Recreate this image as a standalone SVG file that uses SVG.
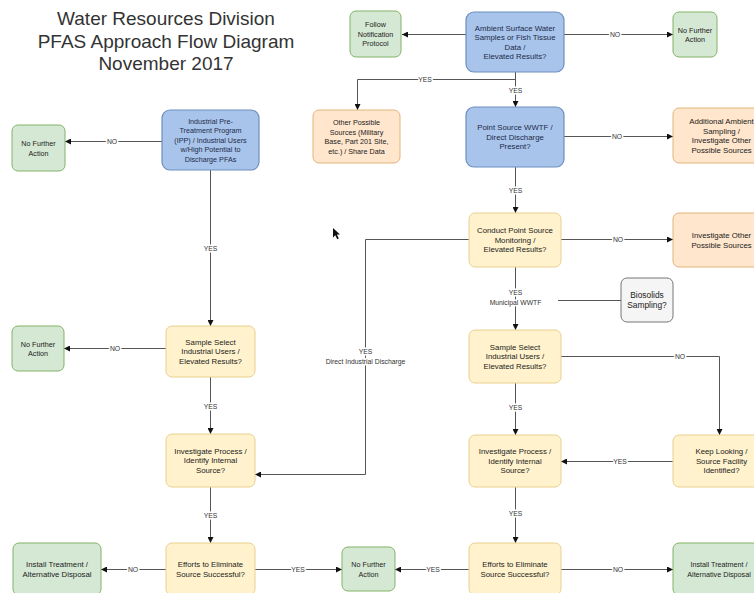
<svg xmlns="http://www.w3.org/2000/svg" width="754" height="593" viewBox="0 0 754 593">
<defs>
<style>
.g{fill:#d5e8d4;stroke:#82b366;stroke-width:1}
.b{fill:#a9c4eb;stroke:#6c8ebf;stroke-width:1.2}
.o{fill:#ffe6cc;stroke:#e3b47a;stroke-width:1}
.y{fill:#fff2cc;stroke:#e8d08e;stroke-width:1}
.gr{fill:#f5f5f5;stroke:#777;stroke-width:1}
.t{font-family:"Liberation Sans",Arial,Helvetica,sans-serif;font-size:7.8px;fill:#222;text-anchor:middle}
.s{font-size:7.2px}
.title{font-family:"Liberation Sans",Arial,Helvetica,sans-serif;font-size:19px;fill:#333;text-anchor:middle}
.c{fill:none;stroke:#555;stroke-width:1}
.l{font-family:"Liberation Sans",Arial,Helvetica,sans-serif;font-size:6.8px;fill:#333;text-anchor:middle;paint-order:stroke;stroke:#fff;stroke-width:3px;stroke-linejoin:round}
</style>
<marker id="a" viewBox="0 0 10 10" refX="10" refY="5" markerWidth="6" markerHeight="6" markerUnits="userSpaceOnUse" orient="auto">
<path d="M0,0 L10,5 L0,10 z" fill="#111"/>
</marker>
</defs>
<rect width="754" height="593" fill="#fff"/>

<g id="title">
<text class="title" x="166" y="25">Water Resources Division</text>
<text class="title" x="166" y="48">PFAS Approach Flow Diagram</text>
<text class="title" x="166" y="70">November 2017</text>
</g>

<g id="connectors">
<path class="c" d="M466,34.5 H402" marker-end="url(#a)"/>
<path class="c" d="M564,34.5 H673" marker-end="url(#a)"/>
<path class="c" d="M515.5,72 V107" marker-end="url(#a)"/>
<path class="c" d="M515.5,79.5 H357.5 V110" marker-end="url(#a)"/>
<path class="c" d="M564,136.5 H673" marker-end="url(#a)"/>
<path class="c" d="M515.5,167 V213" marker-end="url(#a)"/>
<path class="c" d="M561,239.5 H673" marker-end="url(#a)"/>
<path class="c" d="M469,239.5 H365.5 V474.5 H255" marker-end="url(#a)"/>
<path class="c" d="M515.5,267 V330" marker-end="url(#a)"/>
<path class="c" d="M558,300.5 H621"/>
<path class="c" d="M561,356.5 H719.5 V435" marker-end="url(#a)"/>
<path class="c" d="M515.5,383 V435" marker-end="url(#a)"/>
<path class="c" d="M673,461.5 H561" marker-end="url(#a)"/>
<path class="c" d="M515.5,487 V543" marker-end="url(#a)"/>
<path class="c" d="M469,569.5 H395" marker-end="url(#a)"/>
<path class="c" d="M561,569.5 H673" marker-end="url(#a)"/>
<path class="c" d="M162,141.5 H65" marker-end="url(#a)"/>
<path class="c" d="M210.5,170 V326" marker-end="url(#a)"/>
<path class="c" d="M166,348.5 H64" marker-end="url(#a)"/>
<path class="c" d="M210.5,377 V434" marker-end="url(#a)"/>
<path class="c" d="M210.5,487 V543" marker-end="url(#a)"/>
<path class="c" d="M166,569.5 H101" marker-end="url(#a)"/>
<path class="c" d="M255,569.5 H342" marker-end="url(#a)"/>

<text class="l" x="615" y="36.8">NO</text>
<text class="l" x="515.5" y="92.5">YES</text>
<text class="l" x="425" y="81.8">YES</text>
<text class="l" x="617" y="138.8">NO</text>
<text class="l" x="515.5" y="192.5">YES</text>
<text class="l" x="618" y="241.8">NO</text>
<text class="l" x="365.5" y="354">YES</text>
<text class="l" x="365.5" y="364">Direct Industrial Discharge</text>
<text class="l" x="515.5" y="294.5">YES</text>
<text class="l" x="515.5" y="305">Municipal WWTF</text>
<text class="l" x="680" y="358.8">NO</text>
<text class="l" x="515.5" y="409.5">YES</text>
<text class="l" x="620" y="463.8">YES</text>
<text class="l" x="515.5" y="515.5">YES</text>
<text class="l" x="433" y="571.8">YES</text>
<text class="l" x="618" y="571.8">NO</text>
<text class="l" x="112" y="143.8">NO</text>
<text class="l" x="210.5" y="250.5">YES</text>
<text class="l" x="115" y="350.8">NO</text>
<text class="l" x="210.5" y="408.5">YES</text>
<text class="l" x="210.5" y="517.5">YES</text>
<text class="l" x="133" y="571.8">NO</text>
<text class="l" x="298" y="571.8">YES</text>
</g>

<g id="ambient">
<rect class="b" x="466" y="12" width="98" height="60" rx="8"/>
<text class="t" style="fill:#1c2b4a"><tspan x="515" y="30.5">Ambient Surface Water</tspan><tspan x="515" y="40">Samples or Fish Tissue</tspan><tspan x="515" y="49.5">Data /</tspan><tspan x="515" y="59">Elevated Results?</tspan></text>
</g>
<g id="follow">
<rect class="g" x="350" y="11" width="51" height="46" rx="6"/>
<text class="t s"><tspan x="375.5" y="27.3">Follow</tspan><tspan x="375.5" y="36.8">Notification</tspan><tspan x="375.5" y="46.3">Protocol</tspan></text>
</g>
<g id="nfa-top">
<rect class="g" x="673" y="12" width="44" height="45" rx="6"/>
<text class="t s"><tspan x="695" y="32.5">No Further</tspan><tspan x="695" y="42">Action</tspan></text>
</g>
<g id="other-sources">
<rect class="o" x="313" y="110" width="87" height="53" rx="6"/>
<text class="t s"><tspan x="356.5" y="125">Other Possible</tspan><tspan x="356.5" y="134.5">Sources (Military</tspan><tspan x="356.5" y="144">Base, Part 201 Site,</tspan><tspan x="356.5" y="153.5">etc.) / Share Data</tspan></text>
</g>
<g id="point-source">
<rect class="b" x="466" y="107" width="98" height="60" rx="8"/>
<text class="t" style="fill:#1c2b4a"><tspan x="515" y="130.3">Point Source WWTF /</tspan><tspan x="515" y="139.8">Direct Discharge</tspan><tspan x="515" y="149.3">Present?</tspan></text>
</g>
<g id="additional">
<rect class="o" x="673" y="108" width="97" height="55" rx="6"/>
<text class="t"><tspan x="721.5" y="124">Additional Ambient</tspan><tspan x="721.5" y="133.5">Sampling /</tspan><tspan x="721.5" y="143">Investigate Other</tspan><tspan x="721.5" y="152.5">Possible Sources</tspan></text>
</g>
<g id="ipp">
<rect class="b" x="162" y="110" width="97" height="60" rx="8"/>
<text class="t s" style="fill:#1c2b4a"><tspan x="210.5" y="123.6">Industrial Pre-</tspan><tspan x="210.5" y="133.1">Treatment Program</tspan><tspan x="210.5" y="142.6">(IPP) / Industrial Users</tspan><tspan x="210.5" y="152.1">w/High Potential to</tspan><tspan x="210.5" y="161.6">Discharge PFAs</tspan></text>
</g>
<g id="nfa-left-1">
<rect class="g" x="12" y="125" width="53" height="46" rx="6"/>
<text class="t s"><tspan x="38.5" y="146">No Further</tspan><tspan x="38.5" y="155.5">Action</tspan></text>
</g>
<g id="conduct">
<rect class="y" x="469" y="213" width="92" height="54" rx="6"/>
<text class="t"><tspan x="515" y="233.3">Conduct Point Source</tspan><tspan x="515" y="242.8">Monitoring /</tspan><tspan x="515" y="252.3">Elevated Results?</tspan></text>
</g>
<g id="investigate-other">
<rect class="o" x="673" y="213" width="97" height="54" rx="6"/>
<text class="t"><tspan x="721.5" y="238">Investigate Other</tspan><tspan x="721.5" y="247.5">Possible Sources</tspan></text>
</g>
<g id="biosolids">
<rect class="gr" x="621" y="278" width="52" height="44" rx="6"/>
<text class="t" style="font-size:8.4px"><tspan x="647" y="298">Biosolids</tspan><tspan x="647" y="308">Sampling?</tspan></text>
</g>
<g id="sample-right">
<rect class="y" x="469" y="330" width="92" height="53" rx="6"/>
<text class="t"><tspan x="515" y="349.8">Sample Select</tspan><tspan x="515" y="359.3">Industrial Users /</tspan><tspan x="515" y="368.8">Elevated Results?</tspan></text>
</g>
<g id="sample-left">
<rect class="y" x="166" y="326" width="89" height="51" rx="6"/>
<text class="t"><tspan x="210.5" y="344.8">Sample Select</tspan><tspan x="210.5" y="354.3">Industrial Users /</tspan><tspan x="210.5" y="363.8">Elevated Results?</tspan></text>
</g>
<g id="nfa-left-2">
<rect class="g" x="12" y="326" width="52" height="45" rx="6"/>
<text class="t s"><tspan x="38" y="346.5">No Further</tspan><tspan x="38" y="356">Action</tspan></text>
</g>
<g id="investigate-left">
<rect class="y" x="166" y="434" width="89" height="53" rx="6"/>
<text class="t"><tspan x="210.5" y="453.8">Investigate Process /</tspan><tspan x="210.5" y="463.3">Identify Internal</tspan><tspan x="210.5" y="472.8">Source?</tspan></text>
</g>
<g id="investigate-right">
<rect class="y" x="469" y="435" width="92" height="52" rx="6"/>
<text class="t"><tspan x="515" y="454.3">Investigate Process /</tspan><tspan x="515" y="463.8">Identify Internal</tspan><tspan x="515" y="473.3">Source?</tspan></text>
</g>
<g id="keep-looking">
<rect class="y" x="673" y="435" width="97" height="52" rx="6"/>
<text class="t"><tspan x="721.5" y="454.3">Keep Looking /</tspan><tspan x="721.5" y="463.8">Source Facility</tspan><tspan x="721.5" y="473.3">Identified?</tspan></text>
</g>
<g id="efforts-left">
<rect class="y" x="166" y="543" width="89" height="52" rx="6"/>
<text class="t"><tspan x="210.5" y="567">Efforts to Eliminate</tspan><tspan x="210.5" y="576.5">Source Successful?</tspan></text>
</g>
<g id="efforts-right">
<rect class="y" x="469" y="543" width="92" height="52" rx="6"/>
<text class="t"><tspan x="515" y="567">Efforts to Eliminate</tspan><tspan x="515" y="576.5">Source Successful?</tspan></text>
</g>
<g id="install-left">
<rect class="g" x="13" y="543" width="88" height="52" rx="6"/>
<text class="t"><tspan x="57" y="567">Install Treatment /</tspan><tspan x="57" y="576.5">Alternative Disposal</tspan></text>
</g>
<g id="install-right">
<rect class="g" x="673" y="543" width="97" height="52" rx="6"/>
<text class="t" style="font-size:7.2px"><tspan x="719" y="567">Install Treatment /</tspan><tspan x="719" y="576.5">Alternative Disposal</tspan></text>
</g>
<g id="nfa-middle">
<rect class="g" x="342" y="547" width="53" height="44" rx="6"/>
<text class="t s"><tspan x="368.5" y="567">No Further</tspan><tspan x="368.5" y="576.5">Action</tspan></text>
</g>

<path d="M333,228 L333,237.5 L335.3,235.3 L337.2,239.3 L338.8,238.6 L336.9,234.6 L340,234.4 Z" fill="#111"/>
</svg>
